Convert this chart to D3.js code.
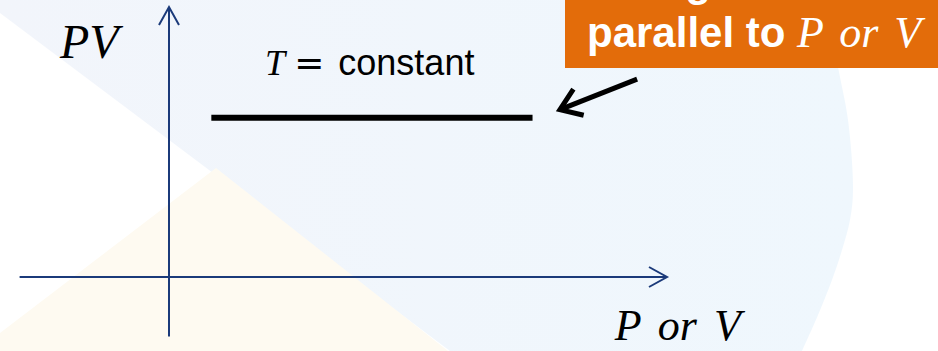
<!DOCTYPE html>
<html>
<head>
<meta charset="utf-8">
<script src="https://cdn.jsdelivr.net/npm/d3@7"></script>
<style>
  body { margin: 0; background: #fff; }
  svg { display: block; }
</style>
</head>
<body>
<svg id="chart" width="938" height="351"></svg>
<script>
// axis extents (data units), origin at 0,0
var xExtent = [-3, 10];
var yExtent = [-2.2, 10];

// the isotherm: PV stays the same for all P (or V)
var isoX = [0.85, 7.3];
var isoY = [5.9, 5.9];

// pointer arrow from the call-out box to the line
var pointerX = [9.4, 7.85];
var pointerY = [7.33, 6.2];

var labels = {
    yAxis: "PV",
    xAxis: "P or V",
    line: "constant",
    note1: "Straight line",
    note2: "parallel to "
};

var svg = d3.select("#chart");
var width = +svg.attr("width"),
    height = +svg.attr("height");

// scales - origin sits at (169, 277)
var x = d3.scaleLinear().domain([0, 10]).range([169, 667]);
var y = d3.scaleLinear().domain([0, 10]).range([277, 7]);

var axisColor = "#1b3a7a";
var mathFont = "'Liberation Serif', 'DejaVu Serif', serif";
var sansFont = "'Liberation Sans', Arial, sans-serif";

// ---- faint background watermark ----
var defs = svg.append("defs");
var grad = defs.append("linearGradient").attr("id", "bgBlue")
    .attr("x1", "0%").attr("x2", "100%").attr("y1", "0%").attr("y2", "0%");
grad.append("stop").attr("offset", "0%").attr("stop-color", "#f2f5fb");
grad.append("stop").attr("offset", "100%").attr("stop-color", "#eff7fd");

// right-hand edge of the blue watermark (curved)
var edge = [[826, 0], [838, 67], [848, 120], [853, 190], [850, 220], [842, 250],
            [832, 280], [818, 315], [802, 351]];
var edgePath = d3.line().curve(d3.curveCatmullRom)(edge);
svg.append("path")
    .attr("d", "M0,0 L826,0 " + edgePath.replace(/^M[^C]*/, "") + " L450," + height + " L0,13 Z")
    .attr("fill", "url(#bgBlue)");

svg.append("path")
    .attr("d", "M216,168 L448," + height + " L0," + height + " L0,333 Z")
    .attr("fill", "#fefaf1");

// ---- arrow heads ----
defs.append("marker")
    .attr("id", "axisHead")
    .attr("markerUnits", "userSpaceOnUse")
    .attr("viewBox", "-20 -12 24 24")
    .attr("refX", 0).attr("refY", 0)
    .attr("markerWidth", 24).attr("markerHeight", 24)
    .attr("orient", "auto")
    .append("path")
    .attr("d", "M-18,-10 L0,0 L-18,10")
    .attr("fill", "none")
    .attr("stroke", axisColor)
    .attr("stroke-width", 2);

defs.append("marker")
    .attr("id", "pointHead")
    .attr("markerUnits", "userSpaceOnUse")
    .attr("viewBox", "-26 -18 32 36")
    .attr("refX", 0).attr("refY", 0)
    .attr("markerWidth", 32).attr("markerHeight", 36)
    .attr("orient", "auto")
    .append("path")
    .attr("d", "M-20,-14 L0,0 L-20,14")
    .attr("fill", "none")
    .attr("stroke", "#000")
    .attr("stroke-width", 5)
    .attr("stroke-linejoin", "miter");

var line = d3.line()
    .x(function(d) { return x(d[0]); })
    .y(function(d) { return y(d[1]); });

// ---- axes ----
svg.append("path")
    .attr("d", line([[xExtent[0], 0], [xExtent[1], 0]]))
    .attr("stroke", axisColor).attr("stroke-width", 2).attr("fill", "none")
    .attr("marker-end", "url(#axisHead)");

svg.append("path")
    .attr("d", line([[0, yExtent[0]], [0, yExtent[1]]]))
    .attr("stroke", axisColor).attr("stroke-width", 2).attr("fill", "none")
    .attr("marker-end", "url(#axisHead)");

// ---- the isotherm ----
svg.append("path")
    .attr("d", line(d3.zip(isoX, isoY)))
    .attr("stroke", "#000").attr("stroke-width", 6).attr("fill", "none");

// axis labels
svg.append("text")
    .attr("x", x(0) - 109).attr("y", y(8.1))
    .style("font-family", mathFont).style("font-style", "italic")
    .style("font-size", "48px")
    .text(labels.yAxis);

svg.append("text")
    .attr("x", x(8.95)).attr("y", y(-2.35))
    .style("font-family", mathFont).style("font-style", "italic")
    .style("font-size", "44px")
    .attr("word-spacing", "6px")
    .text(labels.xAxis);

// T = constant
var tl = svg.append("text")
    .attr("x", x(1.93)).attr("y", y(7.48))
    .style("font-size", "36px");
tl.append("tspan").style("font-family", mathFont).style("font-style", "italic").text("T");
tl.append("tspan").style("font-family", "'DejaVu Sans', sans-serif").attr("dx", 9).text("=");
tl.append("tspan").style("font-family", sansFont).attr("dx", 14).text(labels.line);

// ---- call-out box ----
svg.append("rect")
    .attr("x", 565).attr("y", -10)
    .attr("width", width - 565 + 10).attr("height", 78)
    .attr("fill", "#e36c0a");

svg.append("text")
    .attr("x", 592).attr("y", -4)
    .style("font-family", sansFont).style("font-weight", "bold")
    .style("font-size", "42px").attr("fill", "#fff")
    .text(labels.note1);

var n2 = svg.append("text")
    .attr("x", 587).attr("y", 47)
    .attr("fill", "#fff");
n2.append("tspan")
    .style("font-family", sansFont).style("font-weight", "bold")
    .style("font-size", "42px")
    .text(labels.note2);
n2.append("tspan")
    .style("font-family", mathFont).style("font-style", "italic")
    .style("font-size", "44px").attr("word-spacing", "5px")
    .text(labels.xAxis);

// pointer
svg.append("path")
    .attr("d", line(d3.zip(pointerX, pointerY)))
    .attr("stroke", "#000").attr("stroke-width", 5).attr("fill", "none")
    .attr("marker-end", "url(#pointHead)");
</script>
</body>
</html>
